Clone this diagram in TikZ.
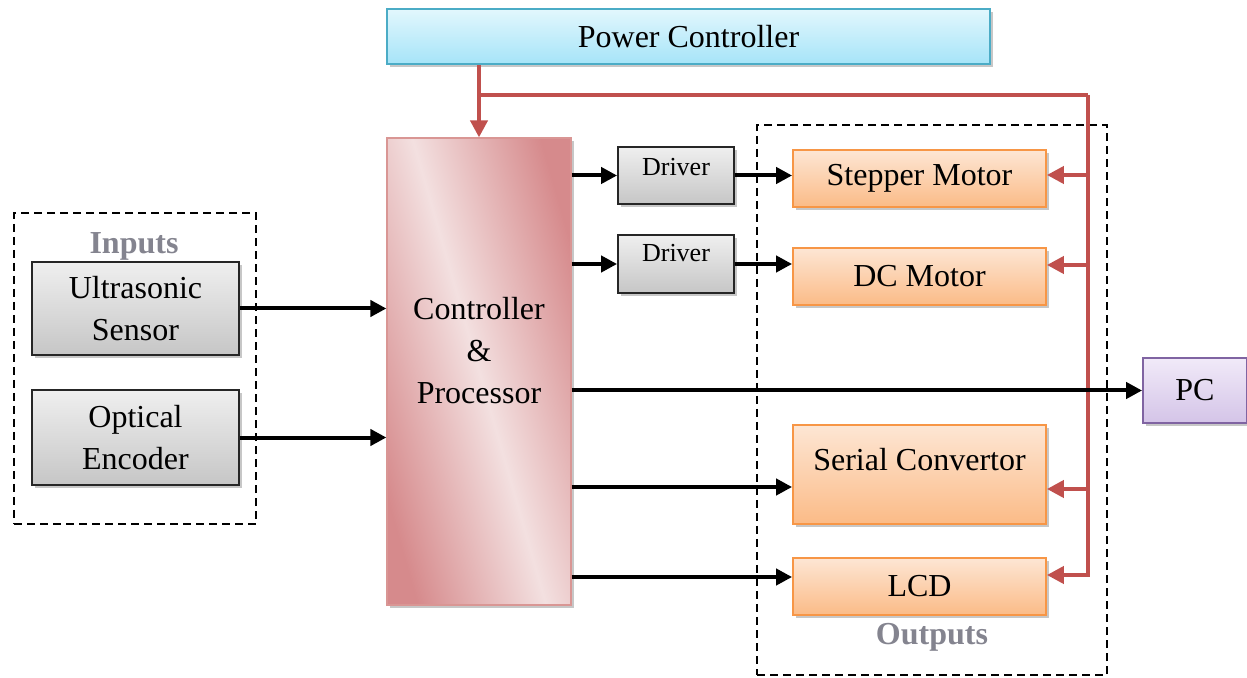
\documentclass[tikz,border=0pt]{standalone}
\usepackage{fontspec}
\setmainfont{Liberation Serif}
\usetikzlibrary{arrows.meta,shadows,calc}

\definecolor{grayTop}{HTML}{EFEFEF}
\definecolor{grayBot}{HTML}{C6C6C6}
\definecolor{orangeTop}{HTML}{FDE6D4}
\definecolor{orangeBot}{HTML}{FBBB87}
\definecolor{orangeEdge}{HTML}{F79646}
\definecolor{cyanTop}{HTML}{E2F7FD}
\definecolor{cyanBot}{HTML}{A6E4F8}
\definecolor{cyanEdge}{HTML}{4BACC6}
\definecolor{lilacTop}{HTML}{F1EAF8}
\definecolor{lilacBot}{HTML}{D4C4E8}
\definecolor{lilacEdge}{HTML}{8064A2}
\definecolor{pinkDark}{HTML}{D68A8C}
\definecolor{pinkLight}{HTML}{F3E0E0}
\definecolor{pinkEdge}{HTML}{D99694}
\definecolor{pwrRed}{HTML}{C0504D}
\definecolor{labelGray}{HTML}{84848F}

\tikzset{
  box/.style={rectangle, inner sep=0pt,
    drop shadow={shadow xshift=1.6pt, shadow yshift=-1.6pt, fill=black!40, opacity=0.55}},
  graybox/.style={box, draw=black!85, line width=0.9pt, top color=grayTop, bottom color=grayBot},
  orangebox/.style={box, draw=orangeEdge, line width=0.9pt, top color=orangeTop, bottom color=orangeBot},
  cyanbox/.style={box, draw=cyanEdge, line width=0.9pt, top color=cyanTop, bottom color=cyanBot},
  lilacbox/.style={box, draw=lilacEdge, line width=0.9pt, top color=lilacTop, bottom color=lilacBot},
  pinkbox/.style={box, draw=pinkEdge, line width=0.6pt, shading=axis,
    top color=pinkDark, bottom color=pinkDark, middle color=pinkLight, shading angle=-74},
  txt/.style={font=\fontsize{16}{21}\selectfont, align=center, inner sep=0pt},
  smalltxt/.style={font=\fontsize{13}{16}\selectfont, inner sep=0pt},
  group/.style={draw, line width=0.9pt, dash pattern=on 4pt off 2.5pt, inner sep=0pt},
  grouplabel/.style={font=\fontsize{16}{19}\selectfont\bfseries, text=labelGray, inner sep=0pt},
  sig/.style={line width=2pt, -{Triangle[length=8pt,width=8pt]}},
  pwr/.style={draw=pwrRed, line width=2pt},
  pwrarrow/.style={pwr, -{Triangle[length=8.5pt,width=8.5pt]}},
}

\begin{document}
\begin{tikzpicture}[x=0.5pt, y=-0.5pt, line join=miter]
\useasboundingbox (0,0) rectangle (1247,678);

% dashed group frames
\node[group, minimum width=121pt, minimum height=155.5pt] (ingroup) at (135,368.5) {};
\node[group, minimum width=175pt, minimum height=275pt] (outgroup) at (932,400) {};
\node[grouplabel, anchor=base] (inlabel) at (134,254) {Inputs};
\node[grouplabel, anchor=base] (outlabel) at (932,644) {Outputs};

% blocks
\node[cyanbox, minimum width=301.5pt, minimum height=27.5pt, txt] (power) at (688.5,36.5) {Power Controller};
\node[pinkbox, minimum width=92pt, minimum height=233.5pt] (ctrl) at (479,371.5) {};
\node[txt] (ctrltext) at (479,351) {Controller\\\&\\Processor};

\node[graybox, minimum width=103.5pt, minimum height=46.5pt, txt] (ultra) at (135.5,308.5) {Ultrasonic\\Sensor};
\node[graybox, minimum width=103.5pt, minimum height=47.5pt, txt] (optical) at (135.5,437.5) {Optical\\Encoder};

\node[graybox, minimum width=58pt, minimum height=28.5pt] (drvA) at (676,175.5) {};
\node[smalltxt, anchor=base] (drvAtext) at (676,176) {Driver};
\node[graybox, minimum width=58pt, minimum height=29pt] (drvB) at (676,264) {};
\node[smalltxt, anchor=base] (drvBtext) at (676,262) {Driver};

\node[orangebox, minimum width=126.5pt, minimum height=28.5pt, txt] (stepper) at (919.5,178.5) {Stepper Motor};
\node[orangebox, minimum width=126.5pt, minimum height=28.5pt, txt] (dc) at (919.5,276.5) {DC Motor};
\node[orangebox, minimum width=126.5pt, minimum height=49.5pt] (serial) at (919.5,474.5) {};
\node[txt, anchor=base] (serialtext) at (919.5,470) {Serial Convertor};
\node[orangebox, minimum width=126.5pt, minimum height=28.5pt, txt] (lcd) at (919.5,586.5) {LCD};

\node[lilacbox, minimum width=52pt, minimum height=32.5pt, txt] (pc) at (1195,390.5) {PC};

% power distribution
\coordinate (busNE) at (1088,95);
\draw[pwrarrow] (ctrl.north |- power.south) -- (ctrl.north);
\draw[pwr] (ctrl.north |- busNE) -- (busNE);
\draw[pwrarrow] (busNE) |- ([yshift=5.75pt]lcd.east);
\draw[pwrarrow] ([yshift=1.75pt]stepper.east -| busNE) -- ([yshift=1.75pt]stepper.east);
\draw[pwrarrow] ([yshift=5.75pt]dc.east -| busNE) -- ([yshift=5.75pt]dc.east);
\draw[pwrarrow] ([yshift=-7.25pt]serial.east -| busNE) -- ([yshift=-7.25pt]serial.east);

% signal paths
\draw[sig] (ultra.east) -- (ultra.east -| ctrl.west);
\draw[sig] (optical.east) -- (optical.east -| ctrl.west);
\draw[sig] (drvA.west -| ctrl.east) -- (drvA.west);
\draw[sig] (drvB.west -| ctrl.east) -- (drvB.west);
\draw[sig] (drvA.east) -- (drvA.east -| stepper.west);
\draw[sig] (drvB.east) -- (drvB.east -| dc.west);
\draw[sig] (pc.west -| ctrl.east) -- (pc.west);
\draw[sig] ([yshift=-6.25pt]serial.west -| ctrl.east) -- ([yshift=-6.25pt]serial.west);
\draw[sig] ([yshift=4.75pt]lcd.west -| ctrl.east) -- ([yshift=4.75pt]lcd.west);
\end{tikzpicture}
\end{document}
